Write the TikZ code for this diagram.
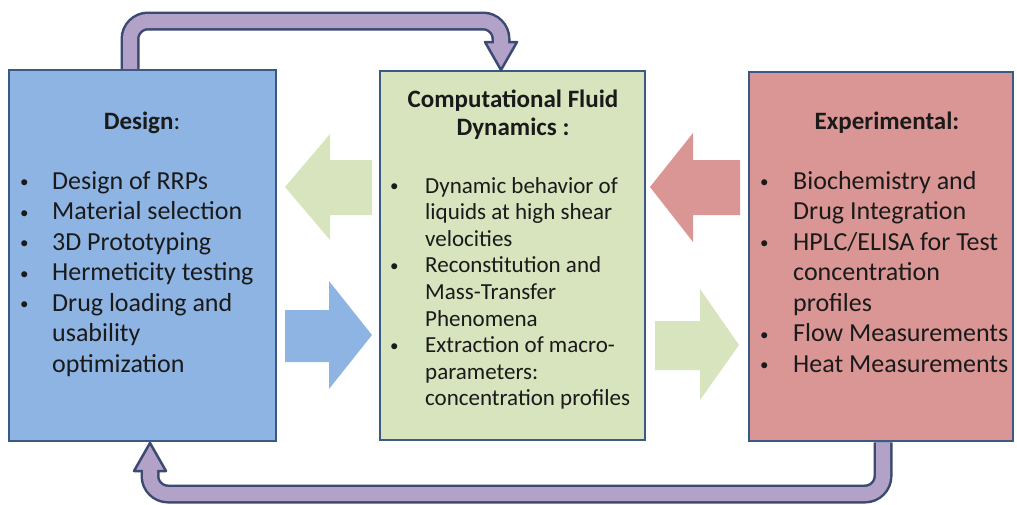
\documentclass[tikz,border=0pt]{standalone}
\usepackage{fontspec}
\setmainfont{Carlito}
\usetikzlibrary{calc}
\definecolor{dsgnfill}{HTML}{8EB4E3}
\definecolor{cfdfill}{HTML}{D7E4BD}
\definecolor{exptfill}{HTML}{D99694}
\definecolor{boxline}{HTML}{3A5A84}
\definecolor{loopfill}{HTML}{B3A2C7}
\definecolor{loopline}{HTML}{3C4A72}
\definecolor{txt}{HTML}{1A1A1A}
\newcommand\blt{\raisebox{1.5pt}{\fontsize{17}{17}\selectfont\textbullet}}

\begin{document}
\begin{tikzpicture}[x=1pt,y=-1pt,
  box/.style={draw=boxline,line width=2.5pt,rectangle,anchor=north west,inner sep=0pt,outer sep=0pt},
  title/.style={font=\fontsize{25}{28}\selectfont\bfseries,text=txt,align=center,anchor=base,inner sep=0pt},
  biglist/.style={font=\fontsize{26}{30.5}\selectfont,text=txt,anchor=base west,inner sep=0pt},
  smalllist/.style={font=\fontsize{23}{26.6}\selectfont,text=txt,anchor=base west,inner sep=0pt},
  loopout/.style={draw=loopline,line width=19pt,rounded corners=18pt},
  loopin/.style={draw=loopfill,line width=14pt,rounded corners=18pt},
  loophead/.style={fill=loopfill,draw=loopline,line width=2.5pt,line join=round}]
  \useasboundingbox (0,0) rectangle (1017,504);

  % the three boxes
  \node[box,fill=dsgnfill,minimum width=267pt,minimum height=371pt] (design) at (9,70) {};
  \node[box,fill=cfdfill,minimum width=265pt,minimum height=369pt] (cfd) at (380,71) {};
  \node[box,fill=exptfill,minimum width=264pt,minimum height=369pt] (expt) at (749,72) {};

  % titles
  \node[title] (dtitle) at (142,129) {Design\mdseries:};
  \node[title] (ctitle) at (513,135) {Computational Fluid\\Dynamics :};
  \node[title] (etitle) at (887,129) {Experimental:};

  % lists
  \node[biglist] (dlist) at (20,189) {\begin{tabular}[t]{@{}p{32pt}@{}l@{}}
    \blt & Design of RRPs\\
    \blt & Material selection\\
    \blt & 3D Prototyping\\
    \blt & Hermeticity testing\\
    \blt & Drug loading and\\
         & usability\\
         & optimization
  \end{tabular}};
  \node[smalllist] (clist) at (390,193) {\begin{tabular}[t]{@{}p{35pt}@{}l@{}}
    \blt & Dynamic behavior of\\
         & liquids at high shear\\
         & velocities\\
    \blt & Reconstitution and\\
         & Mass-Transfer\\
         & Phenomena\\
    \blt & Extraction of macro-\\
         & parameters:\\
         & concentration profiles
  \end{tabular}};
  \node[biglist] (elist) at (760,189) {\begin{tabular}[t]{@{}p{33pt}@{}l@{}}
    \blt & Biochemistry and\\
         & Drug Integration\\
    \blt & HPLC/ELISA for Test\\
         & concentration\\
         & profiles\\
    \blt & Flow Measurements\\
    \blt & Heat Measurements
  \end{tabular}};

  % block arrows between the boxes
  \fill[cfdfill] (285,187) -- (330,134) -- (330,160) -- (372,160) -- (372,215) -- (330,215) -- (330,240) -- cycle;
  \fill[dsgnfill] (372,335) -- (329,281) -- (329,310) -- (285,310) -- (285,362) -- (329,362) -- (329,389) -- cycle;
  \fill[exptfill] (650,187) -- (693,133) -- (693,160) -- (740,160) -- (740,215) -- (693,215) -- (693,242) -- cycle;
  \fill[cfdfill] (739,345) -- (700,289) -- (700,321) -- (655,321) -- (655,370) -- (700,370) -- (700,400) -- cycle;

  % loop from design to cfd
  \coordinate (ta) at ([xshift=121pt,yshift=1.25pt]design.north west);
  \coordinate (tb) at ([xshift=121pt,yshift=1pt]cfd.north west);
  \draw[loopout] (ta) -- (ta |- 0,21) -- (tb |- 0,21) -- ($(tb)+(0,-28)$);
  \filldraw[loophead] (tb) -- ++(-16,-28) -- ++(32,0) -- cycle;
  \draw[loopin] (ta) -- (ta |- 0,21) -- (tb |- 0,21) -- ($(tb)+(0,-26)$);

  % loop from experimental back to design
  \coordinate (ba) at ([xshift=134pt,yshift=-1.25pt]expt.south west);
  \coordinate (bb) at ([xshift=141pt,yshift=-2pt]design.south west);
  \draw[loopout] (ba) -- (ba |- 0,494) -- (bb |- 0,494) -- ($(bb)+(0,28)$);
  \filldraw[loophead] (bb) -- ++(-16,28) -- ++(32,0) -- cycle;
  \draw[loopin] (ba) -- (ba |- 0,494) -- (bb |- 0,494) -- ($(bb)+(0,26)$);
\end{tikzpicture}
\end{document}
